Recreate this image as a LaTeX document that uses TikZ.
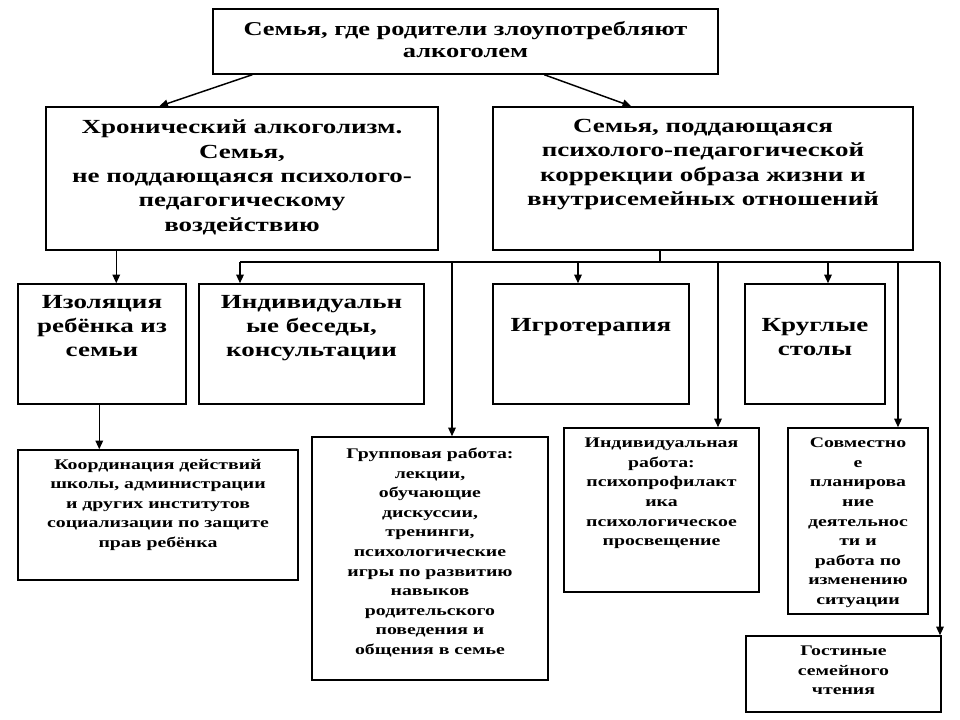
\documentclass[tikz,border=0pt]{standalone}
\usepackage{fontspec}
\setmainfont[FakeStretch=1.35]{Liberation Serif}
\usetikzlibrary{arrows.meta,fit}

\begin{document}
\begin{tikzpicture}[x=0.75pt,y=-0.75pt,line width=1.1pt,>={Triangle[length=2.3mm,width=2mm]},
  box/.style={draw,line width=1.1pt,inner sep=0pt},
  big/.style={align=center,anchor=north,inner sep=0pt,font=\fontsize{15}{18.3}\selectfont\bfseries},
  small/.style={align=center,anchor=north,inner sep=0pt,font=\fontsize{11}{14.7}\selectfont\bfseries}]
  \useasboundingbox (0,0) rectangle (960,720);
  % boxes
  \node[box,fit={(213,9) (718,74)}] (top) {};
  \node[box,fit={(46,107) (438,250)}] (L1) {};
  \node[box,fit={(493,107) (913,250)}] (R1) {};
  \node[box,fit={(18,284) (186,404)}] (Iso) {};
  \node[box,fit={(199,284) (424,404)}] (Ind) {};
  \node[box,fit={(493,284) (689,404)}] (Igr) {};
  \node[box,fit={(745,284) (885,404)}] (Kru) {};
  \node[box,fit={(18,450) (298,580)}] (Koord) {};
  \node[box,fit={(312,437) (548,680)}] (Grp) {};
  \node[box,fit={(564,428) (759,592)}] (IndW) {};
  \node[box,fit={(788,428) (928,614)}] (Sovm) {};
  \node[box,fit={(746,636) (941,712)}] (Gost) {};
  % texts
  \node[big,font=\fontsize{14.7}{16.8}\selectfont\bfseries] (topT) at ([shift={(0,12)}]top.north) {Семья, где родители злоупотребляют\\алкоголем};
  \node[big] (L1T) at ([shift={(0,13)}]L1.north) {Хронический алкоголизм.\\Семья,\\не поддающаяся психолого-\\педагогическому\\воздействию};
  \node[big] (R1T) at ([shift={(0,12)}]R1.north) {Семья, поддающаяся\\психолого-педагогической\\коррекции образа жизни и\\внутрисемейных отношений};
  \node[big] (IsoT) at ([shift={(0,11)}]Iso.north) {Изоляция\\ребёнка из\\семьи};
  \node[big] (IndT) at ([shift={(0,11)}]Ind.north) {Индивидуальн\\ые беседы,\\консультации};
  \node[big] (IgrT) at ([shift={(0,34)}]Igr.north) {Игротерапия};
  \node[big] (KruT) at ([shift={(0,34)}]Kru.north) {Круглые\\столы};
  \node[small] (KoordT) at ([shift={(0,9)}]Koord.north) {Координация действий\\школы, администрации\\и других институтов\\социализации по защите\\прав ребёнка};
  \node[small] (GrpT) at ([shift={(0,11)}]Grp.north) {Групповая работа:\\лекции,\\обучающие\\дискуссии,\\тренинги,\\психологические\\игры по развитию\\навыков\\родительского\\поведения и\\общения в семье};
  \node[small] (IndWT) at ([shift={(0,10)}]IndW.north) {Индивидуальная\\работа:\\психопрофилакт\\ика\\психологическое\\просвещение};
  \node[small] (SovmT) at ([shift={(0,10)}]Sovm.north) {Совместно\\е\\планирова\\ние\\деятельнос\\ти и\\работа по\\изменению\\ситуации};
  \node[small] (GostT) at ([shift={(0,10)}]Gost.north) {Гостиные\\семейного\\чтения};
  % connectors
  \draw[->] ([shift={(40,0)}]top.south west) -- ([shift={(114,0)}]L1.north west);
  \draw[->] ([shift={(332,0)}]top.south west) -- ([shift={(139,0)}]R1.north west);
  \draw[->] ([shift={(71,0)}]L1.south west) coordinate (a) -- (a |- Iso.north);
  \draw[->] ([shift={(82,0)}]Iso.south west) coordinate (b) -- (b |- Koord.north);
  \coordinate (bus) at (660,262);
  \draw (bus |- R1.south) -- (bus);
  \foreach \bx/\tgt in {240/Ind,452/Grp,578/Igr,718/IndW,828/Kru,898/Sovm,940/Gost}{
    \coordinate (br-\tgt) at (\bx,262);
    \draw[->] (br-\tgt) -- (br-\tgt |- \tgt.north);
  }
  \draw (br-Ind) -- (br-Gost);
\end{tikzpicture}
\end{document}
